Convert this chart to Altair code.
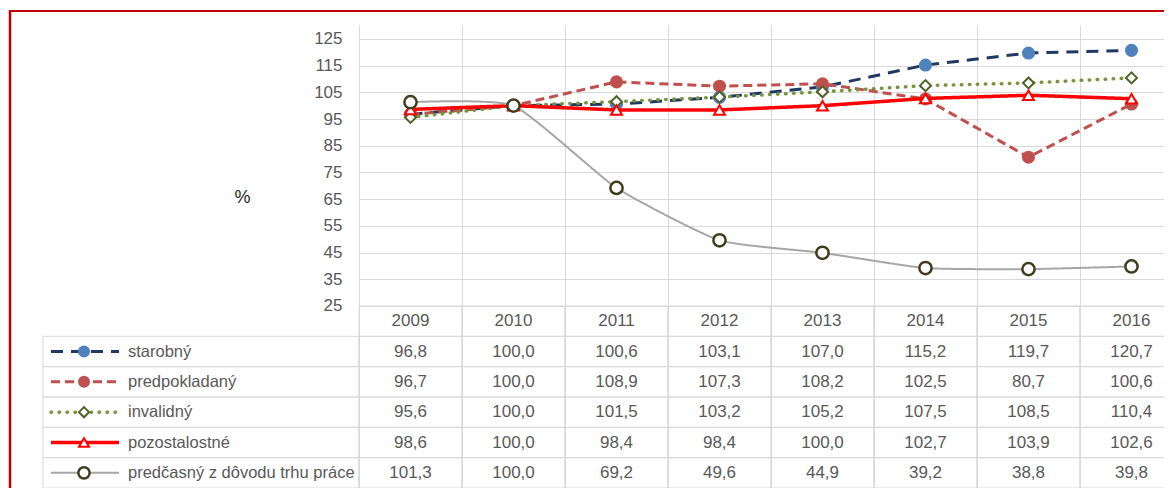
import altair as alt
import pandas as pd

# ---------------- data ----------------
years = [2009, 2010, 2011, 2012, 2013, 2014, 2015, 2016]
series_names = ["starobný", "predpokladaný", "invalidný", "pozostalostné",
                "predčasný z dôvodu trhu práce"]
starobny = [96.8, 100.0, 100.6, 103.1, 107.0, 115.2, 119.7, 120.7]
predpokladany = [96.7, 100.0, 108.9, 107.3, 108.2, 102.5, 80.7, 100.6]
invalidny = [95.6, 100.0, 101.5, 103.2, 105.2, 107.5, 108.5, 110.4]
pozostalostne = [98.6, 100.0, 98.4, 98.4, 100.0, 102.7, 103.9, 102.6]
predcasny = [101.3, 100.0, 69.2, 49.6, 44.9, 39.2, 38.8, 39.8]
series_values = [starobny, predpokladany, invalidny, pozostalostne, predcasny]
y_ticks = [25, 35, 45, 55, 65, 75, 85, 95, 105, 115, 125]
y_title = "%"

# ---------------- styles ----------------
FONT = "Liberation Sans, Arial, sans-serif"
GRID = "#d9d9d9"
TXT = "#595959"
styles = {
    "starobný": dict(color="#1f3864", width=3, dash=[12, 8], cap="butt",
                     shape="circle", fill="#4f81bd", stroke="#4f81bd", size=170, sw=0,
                     interp="linear"),
    "predpokladaný": dict(color="#c0504d", width=3, dash=[9, 5], cap="butt",
                          shape="circle", fill="#c0504d", stroke="#c0504d", size=170, sw=0,
                          interp="linear"),
    "invalidný": dict(color="#77933c", width=3.5, dash=[0.5, 7.5], cap="round",
                      shape="diamond", fill="white", stroke="#4f6228", size=120, sw=2,
                      interp="linear"),
    "pozostalostné": dict(color="#ff0000", width=3.5, dash=[1, 0], cap="butt",
                          shape="triangle-up", fill="white", stroke="#ff0000", size=120, sw=2,
                          interp="linear"),
    "predčasný z dôvodu trhu práce": dict(color="#a6a6a6", width=2, dash=[1, 0], cap="butt",
                                          shape="circle", fill="white", stroke="#403c1e",
                                          size=150, sw=2.5, interp="cardinal"),
}

# ---------------- geometry (scales only) ----------------
PLOT_W, PLOT_H = 805, 463
COL_W = 103
TOP_PX = 281                      # height of the line-chart part
PX_PER_UNIT = 2.6708
x_scale = alt.Scale(domain=[2008.5, 2008.5 + PLOT_W / COL_W], nice=False, zero=False)
y_top = 130.2
y_scale = alt.Scale(domain=[y_top - PLOT_H / PX_PER_UNIT, y_top], nice=False, zero=False)
ROW_PX = (PLOT_H - TOP_PX) / 6
row_scale = alt.Scale(domain=[-TOP_PX / ROW_PX, 6], reverse=True, nice=False, zero=False)

x_axis = alt.Axis(values=[y + 0.5 for y in [2008] + years[:-1]], grid=True, gridColor=GRID,
                  gridWidth=1, labels=False, ticks=False, domain=False, title=None)
y_axis = alt.Axis(values=y_ticks, grid=True, gridColor=GRID, gridWidth=1, ticks=False,
                  tickSize=0, domain=False, labelPadding=17, labelFont=FONT,
                  labelFontSize=17, labelColor=TXT, title=y_title, titleAngle=0,
                  titleX=-117, titleY=172, titleAlign="center", titleBaseline="middle",
                  titleFont=FONT, titleFontSize=18, titleFontWeight="normal",
                  titleColor="#262626")

# ---------------- long tables ----------------
long_rows = []
for i, (name, vals) in enumerate(zip(series_names, series_values)):
    for yr, v in zip(years, vals):
        long_rows.append({"series": name, "year": yr, "value": v, "row": i + 1,
                          "label": f"{v:.1f}".replace(".", ",")})
df = pd.DataFrame(long_rows)
df["r0"] = df["row"]
df["r1"] = df["row"] + 1
df["rc"] = df["row"] + 0.5
df["x0"] = df["year"] - 0.5
df["x1"] = df["year"] + 0.5

hdr = pd.DataFrame({"year": years})
hdr["label"] = hdr["year"].astype(str)
hdr["r0"] = 0
hdr["r1"] = 1
hdr["rc"] = 0.5
hdr["x0"] = hdr["year"] - 0.5
hdr["x1"] = hdr["year"] + 0.5

layers = []

# plot lines and markers
for k, name in enumerate(series_names):
    st = styles[name]
    sub = df[df["series"] == name]
    line_kw = dict(color=st["color"], strokeWidth=st["width"], strokeDash=st["dash"],
                   strokeCap=st["cap"], interpolate=st["interp"])
    if st["interp"] == "cardinal":
        line_kw["tension"] = 0.5
    line = alt.Chart(sub).mark_line(**line_kw).encode(
        x=alt.X("year:Q", scale=x_scale, axis=x_axis),
        y=alt.Y("value:Q", scale=y_scale, axis=y_axis if k == 0 else None),
    )
    pts = alt.Chart(sub).mark_point(
        shape=st["shape"], filled=True, fill=st["fill"], stroke=st["stroke"],
        strokeWidth=st["sw"], size=st["size"], opacity=1, fillOpacity=1
    ).encode(
        x=alt.X("year:Q", scale=x_scale, axis=x_axis),
        y=alt.Y("value:Q", scale=y_scale, axis=None),
    )
    layers += [line, pts]

# data table: cells, header, values
cells = pd.concat([hdr, df], ignore_index=True)
layers.append(
    alt.Chart(cells).mark_rect(filled=False, stroke=GRID, strokeWidth=1).encode(
        x=alt.X("x0:Q", scale=x_scale, axis=x_axis), x2="x1:Q",
        y=alt.Y("r0:Q", scale=row_scale, axis=None), y2="r1:Q",
    )
)
layers.append(
    alt.Chart(cells).mark_text(font=FONT, fontSize=17, color=TXT, align="center",
                               baseline="middle").encode(
        x=alt.X("year:Q", scale=x_scale, axis=x_axis),
        y=alt.Y("rc:Q", scale=row_scale, axis=None),
        text="label:N",
    )
)

# legend column
leg = pd.DataFrame({"series": series_names, "row": list(range(1, 6))})
leg["r0"] = leg["row"]
leg["r1"] = leg["row"] + 1
leg["rc"] = leg["row"] + 0.5
layers.append(
    alt.Chart(leg).mark_rect(filled=False, stroke=GRID, strokeWidth=1).encode(
        x=alt.value(-316), x2=alt.value(0),
        y=alt.Y("r0:Q", scale=row_scale, axis=None), y2="r1:Q",
    )
)
for name in series_names:
    st = styles[name]
    sub = leg[leg["series"] == name]
    layers.append(
        alt.Chart(sub).mark_rule(color=st["color"], strokeWidth=st["width"],
                                 strokeDash=st["dash"], strokeCap=st["cap"]).encode(
            x=alt.value(-308), x2=alt.value(-240),
            y=alt.Y("rc:Q", scale=row_scale, axis=None),
        )
    )
    layers.append(
        alt.Chart(sub).mark_point(shape=st["shape"], filled=True, fill=st["fill"],
                                  stroke=st["stroke"], strokeWidth=st["sw"],
                                  size=st["size"] * 0.85, opacity=1, fillOpacity=1).encode(
            x=alt.value(-275),
            y=alt.Y("rc:Q", scale=row_scale, axis=None),
        )
    )
layers.append(
    alt.Chart(leg).mark_text(font=FONT, fontSize=16.5, color=TXT, align="left",
                             baseline="middle").encode(
        x=alt.value(-231),
        y=alt.Y("rc:Q", scale=row_scale, axis=None),
        text="series:N",
    )
)

# red frame
one = pd.DataFrame({"k": [0]})
layers.append(alt.Chart(one).mark_rule(color="#c00000", strokeWidth=2.5).encode(
    x=alt.value(-349), y=alt.value(-15), y2=alt.value(PLOT_H + 10)))
layers.append(alt.Chart(one).mark_rule(color="#c00000", strokeWidth=2).encode(
    x=alt.value(-350), x2=alt.value(PLOT_W), y=alt.value(-14)))

chart = alt.layer(*layers).resolve_scale(y="independent").properties(
    width=PLOT_W, height=PLOT_H,
    autosize=alt.AutoSizeParams(type="none"),
    padding={"left": 351, "top": 17, "right": 0, "bottom": 0},
).configure_view(stroke=None)

chart.save("out.html", embed_options={"renderer": "svg", "actions": False})
